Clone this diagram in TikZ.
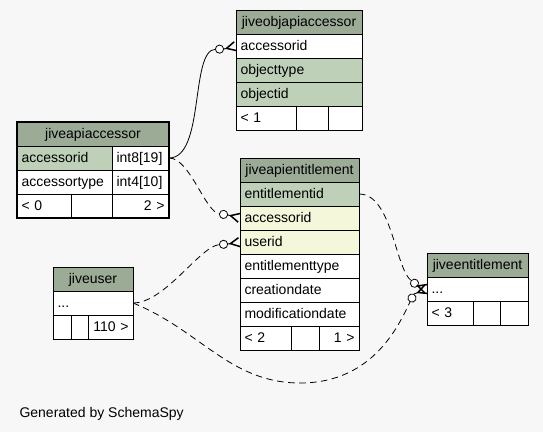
\documentclass[tikz,border=0pt]{standalone}
\usepackage{fontspec}
\setmainfont{Liberation Sans}
\usetikzlibrary{arrows.meta}

\definecolor{pagebg}{HTML}{F7F7F7}
\definecolor{headgreen}{HTML}{9BAB96}
\definecolor{keygreen}{HTML}{BED1B8}
\definecolor{idxyellow}{HTML}{F4F7DA}

\tikzset{
    cell/.style={draw, line width=0.8pt, fill=white, anchor=north west, outer sep=0pt,
        minimum height=24pt, inner xsep=4.5pt, inner ysep=0pt,
        text height=11pt, text depth=2pt, text width=#1, align=left},
    rcell/.style={cell=#1, align=right},
    head/.style={draw, line width=0.8pt, fill=headgreen, anchor=north west, outer sep=0pt,
        minimum height=24pt, minimum width=#1, inner xsep=1pt, inner ysep=0pt,
        text height=11pt, text depth=2pt},
    relation/.style={line width=0.8pt, -{Circle[fill=white, length=9pt, width=9pt]}},
    optional/.style={relation, dash pattern=on 6.5pt off 4.5pt},
    crowfoot/.style={line width=0.9pt, -{Straight Barb[reversed, length=9pt, width=9pt, line width=1.5pt]}}
}

\begin{document}
\begin{tikzpicture}[x=1pt, y=-1pt, font=\fontsize{14}{16}\selectfont]
    \fill[pagebg] (0,0) rectangle (543,432);
    \useasboundingbox (0,0) rectangle (543,432);

    % jiveobjapiaccessor
    \node[head=126pt] (objHead) at (236,10) {jiveobjapiaccessor};
    \node[cell=117pt] (objAcc) at (236,34) {accessorid};
    \node[cell=117pt, fill=keygreen] (objType) at (236,58) {objecttype};
    \node[cell=117pt, fill=keygreen] (objId) at (236,82) {objectid};
    \node[cell=51pt] (objF1) at (236,106) {< 1};
    \node[cell=23pt] (objF2) at (296,106) {};
    \node[cell=25pt] (objF3) at (328,106) {};

    % jiveapiaccessor
    \node[head=152pt] (apiHead) at (17,122) {jiveapiaccessor};
    \node[cell=86pt, fill=keygreen] (apiAcc) at (17,146) {accessorid};
    \node[cell=48pt] (apiAccT) at (112,146) {int8[19]};
    \node[cell=86pt] (apiType) at (17,170) {accessortype};
    \node[cell=48pt] (apiTypeT) at (112,170) {int4[10]};
    \node[cell=45pt] (apiF1) at (17,194) {< 0};
    \node[cell=32pt] (apiF2) at (71,194) {};
    \node[rcell=48pt] (apiF3) at (112,194) {2 >};
    \draw[line width=2.5pt] (apiHead.north west) rectangle (apiF3.south east);

    % jiveapientitlement
    \node[head=119pt] (entHead) at (240,158) {jiveapientitlement};
    \node[cell=110pt, fill=keygreen] (entId) at (240,182) {entitlementid};
    \node[cell=110pt, fill=idxyellow] (entAcc) at (240,206) {accessorid};
    \node[cell=110pt, fill=idxyellow] (entUsr) at (240,230) {userid};
    \node[cell=110pt] (entType) at (240,254) {entitlementtype};
    \node[cell=110pt] (entCreated) at (240,278) {creationdate};
    \node[cell=110pt] (entModified) at (240,302) {modificationdate};
    \node[cell=42pt] (entF1) at (240,326) {< 2};
    \node[cell=19pt] (entF2) at (291,326) {};
    \node[rcell=31pt] (entF3) at (319,326) {1 >};

    % jiveuser
    \node[head=80pt] (usrHead) at (53,267) {jiveuser};
    \node[cell=71pt] (usrRow) at (53,291) {...};
    \node[cell=9pt] (usrF1) at (53,315) {};
    \node[cell=8pt] (usrF2) at (71,315) {};
    \node[rcell=36pt] (usrF3) at (88,315) {110 >};

    % jiveentitlement
    \node[head=101pt] (jentHead) at (427,253) {jiveentitlement};
    \node[cell=92pt] (jentRow) at (427,277) {...};
    \node[cell=37pt] (jentF1) at (427,301) {< 3};
    \node[cell=18pt] (jentF2) at (473,301) {};
    \node[cell=19pt] (jentF3) at (500,301) {};

    % where the circles end and the crow's feet begin
    \coordinate (objEnd) at (224,49);
    \coordinate (entAccEnd) at (228,215);
    \coordinate (entUsrEnd) at (228,244);
    \coordinate (jentEndA) at (418,286);
    \coordinate (jentEndB) at (414,294);

    \draw[relation] (apiAccT.east) .. controls (205,158) and (190,50) .. (objEnd);
    \draw[crowfoot] (objEnd) -- (objAcc.west);
    \draw[optional] (apiAccT.east) .. controls (190,158) and (205,212) .. (entAccEnd);
    \draw[crowfoot] (entAccEnd) -- (entAcc.west);
    \draw[optional] (usrRow.east) .. controls (165,303) and (200,246) .. (entUsrEnd);
    \draw[crowfoot] (entUsrEnd) -- (entUsr.west);
    \draw[optional] (entId.east) .. controls (392,194) and (395,268) .. (jentEndA);
    \draw[crowfoot] (jentEndA) -- (jentRow.west);
    \draw[optional] (usrRow.east) .. controls (200,330) and (230,383) .. (300,383)
        .. controls (375,383) and (400,322) .. (jentEndB);
    \draw[crowfoot] (jentEndB) -- (jentRow.west);

    \node[anchor=base west] (credit) at (16,417) {Generated by SchemaSpy};
\end{tikzpicture}
\end{document}
